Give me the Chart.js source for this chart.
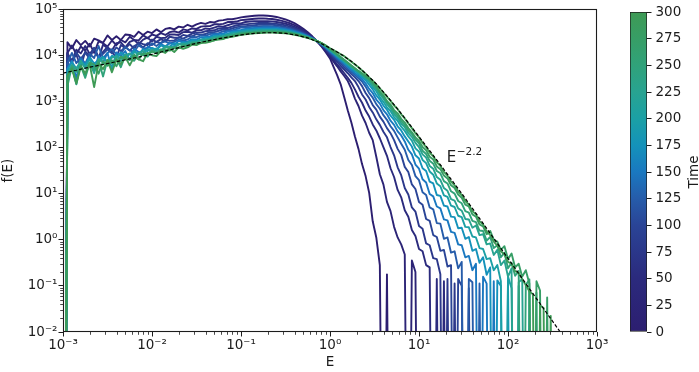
<!DOCTYPE html>
<html><head><meta charset="utf-8">
<script src="https://cdn.jsdelivr.net/npm/chart.js@4.4.1/dist/chart.umd.min.js"></script>
<style>
html,body{margin:0;padding:0;background:#fff;}
#wrap{position:relative;width:699px;height:372px;overflow:hidden;}
#main{position:absolute;left:0;top:0;}
#cbar{position:absolute;left:600px;top:0;}
</style></head><body>
<div id="wrap"><canvas id="main" width="699" height="372"></canvas><canvas id="cbar" width="99" height="372"></canvas></div>
<script>
// shared energy grid, log10(E)
const logE = [-2.98,
 -2.95,-2.9,-2.85,-2.8,-2.75,-2.7,-2.65,-2.6,-2.55,-2.5,-2.45,-2.4,-2.35,-2.3,-2.25,-2.2,-2.15,-2.1,-2.05,-2,
 -1.95,-1.9,-1.85,-1.8,-1.75,-1.7,-1.65,-1.6,-1.55,-1.5,-1.45,-1.4,-1.35,-1.3,-1.25,-1.2,-1.15,-1.1,-1.05,-1,
 -0.95,-0.9,-0.85,-0.8,-0.75,-0.7,-0.65,-0.6,-0.55,-0.5,-0.45,-0.4,-0.35,-0.3,-0.25,-0.2,-0.15,-0.1,-0.05,0,
 0.04,0.08,0.12,0.16,0.2,0.24,0.28,0.32,0.36,0.4,0.44,0.48,0.52,0.56,0.6,0.64,0.68,0.72,0.76,0.8,
 0.84,0.88,0.92,0.96,1,1.04,1.08,1.12,1.16,1.2,1.24,1.28,1.32,1.36,1.4,1.44,1.48,1.52,1.56,1.6,
 1.64,1.68,1.72,1.76,1.8,1.84,1.88,1.92,1.96,2,2.04,2.08,2.12,2.16,2.2,2.24,2.28,2.32,2.36,2.4,
 2.44,2.48,2.52,2.56,2.6];

// log10 f(E) per snapshot; null = empty bin (f = 0)
const f_t0 = [null,
 4.28,4.15,4.33,4.22,4.31,4.19,4.36,4.32,4.27,4.43,4.33,4.41,4.33,4.45,4.44,4.40,4.51,4.44,4.51,4.48,4.56,4.50,4.57,4.59,4.56,4.62,4.60,4.66,4.62,4.67,4.70,4.68,4.72,4.71,4.75,4.76,4.78,4.78,4.80,4.82,
 4.835,4.845,4.855,4.86,4.86,4.855,4.845,4.83,4.805,4.775,4.74,4.695,4.64,4.575,4.5,4.41,4.31,4.2,4.07,3.93,
 3.75,3.57,3.37,3.09,2.80,2.54,2.24,1.97,1.64,1.38,1.02,0.40,0.05,-0.55,null,-0.75,null];
const f_t25 = [null,
 4.05,4.21,4.02,4.19,4.10,4.25,4.05,4.30,4.26,4.19,4.32,4.22,4.33,4.28,4.40,4.33,4.32,4.43,4.37,4.45,4.42,4.48,4.44,4.50,4.52,4.49,4.56,4.54,4.58,4.57,4.62,4.63,4.63,4.67,4.67,4.68,4.72,4.72,4.73,4.76,
 4.77,4.78,4.79,4.795,4.80,4.79,4.785,4.77,4.75,4.724,4.693,4.652,4.603,4.545,4.479,4.399,4.31,4.212,4.095,3.967,
 3.86,3.76,3.65,3.55,3.44,3.27,3.06,2.90,2.69,2.53,2.32,2.16,1.80,1.42,1.20,0.82,0.62,0.28,0.05,-0.10,-0.32,null,-0.45,-0.7,null];
const f_t50 = [null,
 4.05,3.86,4.12,4.04,4.20,4.03,4.15,3.93,4.23,4.15,4.11,4.26,4.28,4.17,4.29,4.33,4.24,4.34,4.38,4.30,4.40,4.37,4.38,4.45,4.45,4.44,4.50,4.51,4.49,4.54,4.54,4.58,4.57,4.60,4.63,4.62,4.65,4.68,4.69,4.69,
 4.72,4.73,4.74,4.74,4.74,4.74,4.735,4.72,4.705,4.682,4.654,4.617,4.573,4.521,4.461,4.39,4.31,4.222,4.115,3.998,
 3.90,3.80,3.71,3.61,3.51,3.40,3.26,3.10,2.97,2.80,2.67,2.50,2.37,2.20,2.01,1.82,1.55,1.36,1.08,0.92,0.64,0.50,0.21,0.08,-0.20,-0.25,-0.55,-0.60,null,-0.85,null,-0.9,null];
const f_t75 = [null,
 4.02,3.89,4.01,3.75,4.08,3.99,4.15,3.96,4.07,4.18,4.07,3.95,4.22,4.15,4.24,4.14,4.28,4.24,4.22,4.34,4.29,4.35,4.30,4.40,4.38,4.38,4.44,4.42,4.47,4.49,4.49,4.52,4.53,4.54,4.58,4.59,4.59,4.62,4.65,4.66,
 4.67,4.68,4.69,4.70,4.70,4.70,4.69,4.68,4.667,4.646,4.62,4.587,4.548,4.50,4.446,4.382,4.31,4.23,4.132,4.025,
 3.94,3.86,3.77,3.69,3.61,3.52,3.44,3.31,3.15,3.04,2.88,2.76,2.61,2.49,2.34,2.22,2.01,1.83,1.57,1.40,1.12,0.98,0.70,0.61,0.30,0.24,-0.08,-0.12,-0.40,-0.42,-0.75,null,-0.85,null,-0.95,null];
const f_t100 = [null,
 3.95,3.83,4.06,3.92,4.05,3.93,4.16,3.95,4.03,4.13,4.04,4.17,4.09,4.18,4.10,4.20,4.25,4.17,4.26,4.22,4.29,4.26,4.34,4.31,4.32,4.39,4.36,4.41,4.41,4.46,4.44,4.46,4.50,4.50,4.53,4.56,4.55,4.58,4.61,4.62,
 4.63,4.64,4.65,4.66,4.66,4.66,4.66,4.65,4.634,4.616,4.593,4.562,4.526,4.482,4.434,4.376,4.31,4.237,4.147,4.047,
 3.97,3.90,3.82,3.74,3.67,3.59,3.52,3.44,3.33,3.18,3.07,2.92,2.82,2.67,2.56,2.42,2.31,2.16,1.97,1.84,1.58,1.47,1.20,1.10,0.82,0.76,0.45,0.41,0.10,0.06,-0.24,-0.22,-0.58,-0.55,null,-0.85,-1.0,null,-1.05,null];
const f_t125 = [null,
 3.82,4.05,3.83,3.95,3.82,4.03,3.94,4.20,3.93,4.05,4.13,4.02,4.03,4.18,4.10,4.08,4.21,4.15,4.15,4.26,4.20,4.27,4.30,4.25,4.29,4.34,4.32,4.34,4.40,4.39,4.43,4.42,4.46,4.47,4.48,4.52,4.53,4.54,4.57,4.60,
 4.60,4.61,4.62,4.62,4.63,4.63,4.625,4.62,4.605,4.589,4.568,4.54,4.507,4.466,4.422,4.37,4.31,4.243,4.16,4.066,
 4.00,3.92,3.86,3.78,3.71,3.64,3.57,3.50,3.43,3.32,3.18,3.08,2.94,2.84,2.70,2.60,2.46,2.36,2.22,2.08,1.95,1.73,1.62,1.38,1.29,1.03,0.97,0.70,0.66,0.36,0.35,0.02,0.05,-0.28,-0.25,-0.62,-0.48,null,-0.85,-0.92,null,-0.95,null];
const f_t150 = [null,
 3.71,3.88,3.50,3.92,3.80,3.93,3.67,3.99,3.84,4.05,3.70,4.06,3.98,4.09,3.90,4.14,4.07,4.03,4.18,4.15,4.11,4.24,4.19,4.27,4.22,4.31,4.29,4.29,4.35,4.34,4.39,4.39,4.41,4.45,4.46,4.47,4.51,4.52,4.54,4.55,
 4.57,4.58,4.59,4.59,4.60,4.60,4.60,4.59,4.58,4.565,4.545,4.52,4.489,4.452,4.412,4.364,4.31,4.249,4.172,4.084,
 4.02,3.95,3.88,3.82,3.75,3.68,3.61,3.55,3.48,3.39,3.27,3.18,3.04,2.95,2.81,2.72,2.58,2.49,2.35,2.26,2.13,1.95,1.85,1.63,1.54,1.31,1.24,0.99,0.94,0.72,0.68,0.44,0.42,0.17,0.15,-0.10,-0.12,-0.38,-0.35,-0.66,-0.52,null,-0.80,-0.95,null,-0.90,null];
const f_t175 = [null,
 3.69,3.85,3.71,3.85,3.80,3.96,3.82,3.89,3.97,3.85,3.99,3.94,4.06,3.97,4.02,4.10,4.02,4.13,4.09,4.16,4.12,4.21,4.18,4.19,4.26,4.24,4.28,4.26,4.33,4.32,4.33,4.38,4.38,4.42,4.42,4.45,4.46,4.50,4.51,4.53,
 4.54,4.55,4.56,4.57,4.57,4.57,4.57,4.57,4.557,4.544,4.526,4.502,4.474,4.44,4.404,4.36,4.31,4.254,4.182,4.099,
 4.04,3.97,3.91,3.84,3.78,3.72,3.65,3.59,3.52,3.46,3.36,3.26,3.13,3.04,2.91,2.82,2.69,2.60,2.46,2.37,2.24,2.13,2.02,1.83,1.76,1.55,1.49,1.26,1.22,0.97,0.95,0.74,0.72,0.50,0.49,0.25,0.26,0.02,0.06,-0.24,-0.20,-0.50,-0.38,-0.76,-0.60,null,-0.88,-1.0,null,-0.95,null];
const f_t200 = [null,
 3.64,3.77,3.37,3.84,3.75,3.91,3.73,3.84,3.95,3.84,3.73,4.00,3.93,4.02,3.92,4.07,4.03,4.01,4.13,4.08,4.15,4.10,4.20,4.18,4.18,4.25,4.23,4.28,4.30,4.30,4.34,4.35,4.36,4.40,4.41,4.42,4.45,4.48,4.49,4.51,
 4.52,4.53,4.54,4.545,4.55,4.55,4.55,4.55,4.538,4.526,4.509,4.487,4.462,4.43,4.396,4.356,4.31,4.258,4.19,4.113,
 4.05,3.99,3.93,3.87,3.80,3.74,3.68,3.62,3.56,3.49,3.42,3.31,3.22,3.09,2.99,2.87,2.79,2.66,2.58,2.45,2.36,2.24,2.15,1.98,1.91,1.73,1.66,1.48,1.41,1.22,1.16,0.96,0.93,0.74,0.71,0.52,0.49,0.28,0.27,0.07,0.05,-0.18,-0.20,-0.42,-0.40,-0.66,-0.55,-0.90,null,-0.80,-1.05,null,-1.0,null];
const f_t225 = [null,
 3.53,3.79,3.71,3.88,3.71,3.83,3.61,3.92,3.84,3.80,3.95,3.98,3.87,3.99,4.04,3.95,4.05,4.09,4.02,4.12,4.09,4.10,4.18,4.18,4.17,4.23,4.25,4.23,4.28,4.28,4.33,4.32,4.35,4.38,4.38,4.41,4.44,4.45,4.46,4.49,
 4.50,4.51,4.52,4.53,4.53,4.53,4.53,4.53,4.522,4.511,4.495,4.475,4.451,4.421,4.39,4.353,4.31,4.262,4.198,4.124,
 4.06,4.00,3.94,3.88,3.82,3.76,3.70,3.64,3.58,3.52,3.46,3.35,3.27,3.15,3.06,2.94,2.85,2.72,2.64,2.52,2.44,2.31,2.23,2.10,2.01,1.85,1.78,1.60,1.54,1.36,1.30,1.12,1.06,0.88,0.85,0.68,0.63,0.45,0.44,0.26,0.31,0.10,0.12,-0.10,-0.08,-0.33,-0.22,-0.55,-0.45,-0.80,-0.62,null,-0.92,-0.85,null,-1.1,null];
const f_t250 = [null,
 3.33,3.76,3.64,3.77,3.51,3.83,3.68,3.89,3.54,3.90,3.82,3.93,3.74,3.99,3.92,3.88,4.04,4.01,3.97,4.10,4.05,4.13,4.08,4.17,4.15,4.16,4.22,4.21,4.26,4.26,4.28,4.32,4.33,4.34,4.38,4.39,4.41,4.43,4.46,4.47,
 4.48,4.49,4.50,4.51,4.515,4.52,4.52,4.51,4.507,4.497,4.483,4.464,4.441,4.413,4.384,4.35,4.31,4.265,4.204,4.134,
 4.07,4.01,3.95,3.89,3.83,3.77,3.71,3.65,3.59,3.53,3.47,3.38,3.30,3.18,3.10,2.98,2.90,2.77,2.69,2.57,2.49,2.37,2.29,2.17,2.09,1.93,1.86,1.71,1.65,1.49,1.44,1.27,1.22,1.05,1.00,0.84,0.79,0.62,0.59,0.41,0.38,0.20,0.19,-0.02,0.06,-0.18,-0.12,-0.38,-0.28,-0.62,-0.50,-0.78,-0.68,null,-0.98,-0.86,null,-1.15,null];
const f_t275 = [null,
 3.54,3.72,3.42,3.78,3.59,3.84,3.80,3.60,3.87,3.77,3.89,3.76,3.97,3.91,3.90,4.01,3.91,4.04,4.01,4.08,4.04,4.10,4.13,4.10,4.17,4.16,4.20,4.19,4.24,4.26,4.26,4.30,4.31,4.32,4.36,4.37,4.38,4.41,4.43,4.45,
 4.47,4.48,4.49,4.49,4.50,4.50,4.50,4.50,4.494,4.485,4.472,4.454,4.433,4.406,4.379,4.347,4.31,4.268,4.21,4.142,
 4.08,4.02,3.96,3.90,3.84,3.78,3.72,3.66,3.61,3.55,3.49,3.41,3.33,3.21,3.13,3.01,2.93,2.81,2.74,2.62,2.54,2.42,2.33,2.22,2.14,2.01,1.94,1.80,1.74,1.59,1.53,1.39,1.33,1.18,1.12,0.98,0.91,0.76,0.72,0.55,0.50,0.33,0.29,0.12,0.19,0.00,-0.04,-0.22,-0.14,-0.42,-0.30,-0.60,-0.52,-0.80,-0.66,-0.95,null,-0.90,-1.1,null,-1.25,null];
const f_t300 = [null,
 3.56,3.70,3.38,3.75,3.60,3.80,3.31,3.82,3.70,3.89,3.63,3.90,3.81,3.96,3.78,3.97,3.91,3.87,4.05,4.00,3.98,4.09,4.05,4.14,4.07,4.17,4.14,4.17,4.23,4.22,4.27,4.27,4.29,4.33,4.34,4.35,4.39,4.40,4.42,4.44,
 4.455,4.465,4.475,4.48,4.487,4.49,4.49,4.488,4.483,4.475,4.462,4.445,4.425,4.40,4.375,4.345,4.31,4.27,4.215,4.15,
 4.11,4.07,4.02,3.98,3.92,3.86,3.80,3.74,3.67,3.60,3.52,3.45,3.37,3.28,3.19,3.10,3.01,2.91,2.83,2.72,2.63,2.52,2.42,2.31,2.22,2.10,2.01,1.89,1.81,1.68,1.60,1.47,1.39,1.26,1.18,1.05,0.97,0.84,0.76,0.62,0.55,0.40,0.33,0.18,0.10,-0.04,-0.13,-0.25,-0.32,-0.48,-0.52,-0.68,-0.72,-0.86,-0.98,-1.12,-1.18,null,-1.42,-1.48,null,-1.65,null];

// dashed model curve (log10 E, log10 f)
const fitLogE = [-3,-2.75,-2.5,-2.25,-2,-1.75,-1.5,-1.25,-1,-0.875,-0.75,-0.625,-0.5,-0.375,-0.25,-0.125,0,0.125,0.25,0.375,0.5,0.625,0.75,0.875,1,1.25,1.5,1.75,2,2.25,2.5,2.65];
const fitLogF = [3.61,3.72,3.82,3.92,4.02,4.14,4.26,4.36,4.44,4.47,4.487,4.488,4.475,4.435,4.375,4.28,4.155,4.02,3.855,3.65,3.42,3.15,2.86,2.55,2.235,1.6,0.95,0.275,-0.405,-1.085,-1.765,-2.17];

const times = [0,25,50,75,100,125,150,175,200,225,250,275,300];
const seriesF = [f_t0,f_t25,f_t50,f_t75,f_t100,f_t125,f_t150,f_t175,f_t200,f_t225,f_t250,f_t275,f_t300];
const xPowers = [-3,-2,-1,0,1,2,3];
const yPowers = [-2,-1,0,1,2,3,4,5];
const timeMin = 0, timeMax = 300, timeStep = 25;

// ---- styling ----
const FONT = "'DejaVu Sans', sans-serif";
const TXT = '#1c1c1c';
const CM = [[0,[44,30,112]],[0.167,[43,42,125]],[0.333,[42,68,150]],[0.417,[38,92,170]],[0.5,[26,120,192]],[0.583,[20,146,186]],[0.667,[27,160,165]],[0.75,[40,163,145]],[0.833,[48,162,122]],[0.917,[55,158,102]],[1,[62,154,85]]];
function cmap(u){
  for(let i=1;i<CM.length;i++){
    if(u<=CM[i][0]){const [a,ca]=CM[i-1],[b,cb]=CM[i];const t=(u-a)/(b-a);
      return 'rgb('+ca.map((v,k)=>Math.round(v+(cb[k]-v)*t)).join(',')+')';}
  }
  return 'rgb('+CM[CM.length-1][1].join(',')+')';
}
const SUP={'-':'\u207B','0':'\u2070','1':'\u00B9','2':'\u00B2','3':'\u00B3','4':'\u2074','5':'\u2075','6':'\u2076','7':'\u2077','8':'\u2078','9':'\u2079'};
const powLabel = v => '10'+String(Math.round(Math.log10(v))).split('').map(c=>SUP[c]).join('');

const toPts = arr => arr.map((v,i)=>({x:Math.pow(10,logE[i]), y: v===null?1e-9:Math.pow(10,v)}));
const datasets = [{
  data: fitLogE.map((e,i)=>({x:Math.pow(10,e), y:Math.pow(10,fitLogF[i])})),
  borderColor:'#000', borderWidth:1.2, borderDash:[3.5,2], pointRadius:0, fill:false
}];
for(let k=seriesF.length-1;k>=0;k--){
  datasets.push({data:toPts(seriesF[k]), borderColor:cmap((times[k]-timeMin)/(timeMax-timeMin)), borderWidth:1.9, pointRadius:0, fill:false, borderJoinStyle:'round'});
}

const decor = {
  id:'decor',
  afterDraw(chart){
    const {ctx, chartArea:a, scales:{x,y}} = chart;
    ctx.save();
    ctx.strokeStyle = TXT; ctx.lineWidth = 0.8;
    ctx.beginPath();
    for(let p=xPowers[0];p<xPowers[xPowers.length-1];p++) for(let m=2;m<10;m++){
      const px = Math.round(x.getPixelForValue(m*Math.pow(10,p)))+0.5;
      ctx.moveTo(px,a.bottom); ctx.lineTo(px,a.bottom+2.8);
    }
    for(let p=yPowers[0];p<yPowers[yPowers.length-1];p++) for(let m=2;m<10;m++){
      const py = Math.round(y.getPixelForValue(m*Math.pow(10,p)))+0.5;
      ctx.moveTo(a.left,py); ctx.lineTo(a.left-2.8,py);
    }
    ctx.stroke();
    ctx.lineWidth = 1.1;
    ctx.strokeRect(Math.round(a.left)+0.5, Math.round(a.top)+0.5, Math.round(a.right-a.left)-1, Math.round(a.bottom-a.top)-1);
    // annotation E^-2.2
    const ax = x.getPixelForValue(20.5), ay = y.getPixelForValue(49);
    ctx.fillStyle = TXT; ctx.textBaseline='alphabetic'; ctx.textAlign='left';
    ctx.font = '15px '+FONT; ctx.fillText('E', ax, ay);
    const w = ctx.measureText('E').width;
    ctx.font = '10.5px '+FONT; ctx.fillText('\u22122.2', ax+w+0.5, ay-6.5);
    ctx.restore();
  }
};

new Chart(document.getElementById('main'), {
  type:'line',
  data:{datasets},
  options:{
    responsive:false, animation:false, devicePixelRatio:1,
    layout:{padding:{left:0,right:102,top:7,bottom:0}},
    plugins:{legend:{display:false}, tooltip:{enabled:false}},
    elements:{line:{tension:0}},
    scales:{
      x:{type:'logarithmic', min:Math.pow(10,xPowers[0]), max:Math.pow(10,xPowers[xPowers.length-1]),
        afterFit:s=>{s.height=40;},
        afterBuildTicks:s=>{s.ticks=xPowers.map(p=>({value:Math.pow(10,p)}));},
        ticks:{callback:powLabel, font:{family:FONT,size:13.5}, color:TXT, maxRotation:0, autoSkip:false, padding:1},
        grid:{display:true, drawOnChartArea:false, drawTicks:true, tickLength:4.5, tickWidth:1, tickColor:TXT},
        border:{display:false},
        title:{display:true, text:'E', font:{family:FONT,size:13.5}, color:TXT, padding:{top:0,bottom:1}}},
      y:{type:'logarithmic', min:Math.pow(10,yPowers[0]), max:Math.pow(10,yPowers[yPowers.length-1]),
        afterFit:s=>{s.width=63;},
        afterBuildTicks:s=>{s.ticks=yPowers.map(p=>({value:Math.pow(10,p)}));},
        ticks:{callback:powLabel, font:{family:FONT,size:13.5}, color:TXT, autoSkip:false, padding:1},
        grid:{display:true, drawOnChartArea:false, drawTicks:true, tickLength:4.5, tickWidth:1, tickColor:TXT},
        border:{display:false},
        title:{display:true, text:'f(E)', font:{family:FONT,size:13.5}, color:TXT, padding:{top:0,bottom:0}}}
    }
  },
  plugins:[decor]
});

// ---- colorbar ----
const cbTitle = {
  id:'cbTitle',
  afterDraw(chart){
    const {ctx, chartArea:a} = chart;
    ctx.save();
    ctx.translate(94, (a.top+a.bottom)/2);
    ctx.rotate(-Math.PI/2);
    ctx.fillStyle=TXT; ctx.font='13.5px '+FONT; ctx.textAlign='center'; ctx.textBaseline='middle';
    ctx.fillText('Time',0,0);
    ctx.restore();
  }
};
new Chart(document.getElementById('cbar'), {
  type:'bar',
  data:{labels:['Time'], datasets:[{
    data:[[timeMin,timeMax]],
    backgroundColor:(c)=>{const a=c.chart.chartArea; if(!a) return 'rgba(0,0,0,0)';
      const g=c.chart.ctx.createLinearGradient(0,a.bottom,0,a.top);
      CM.forEach(([u,col])=>g.addColorStop(u,'rgb('+col.join(',')+')')); return g;},
    borderColor:TXT, borderWidth:1, borderSkipped:false, barPercentage:1, categoryPercentage:1
  }]},
  options:{
    responsive:false, animation:false, devicePixelRatio:1,
    layout:{padding:{left:30,top:7,right:0,bottom:40}},
    plugins:{legend:{display:false}, tooltip:{enabled:false}},
    scales:{
      x:{display:false},
      y:{position:'right', min:timeMin, max:timeMax, afterFit:s=>{s.width=52;},
        ticks:{stepSize:timeStep, font:{family:FONT,size:13.5}, color:TXT, padding:4},
        grid:{display:true, drawOnChartArea:false, drawTicks:true, tickLength:4.5, tickColor:TXT},
        border:{display:false}}
    }
  },
  plugins:[cbTitle]
});
</script>
</body></html>
